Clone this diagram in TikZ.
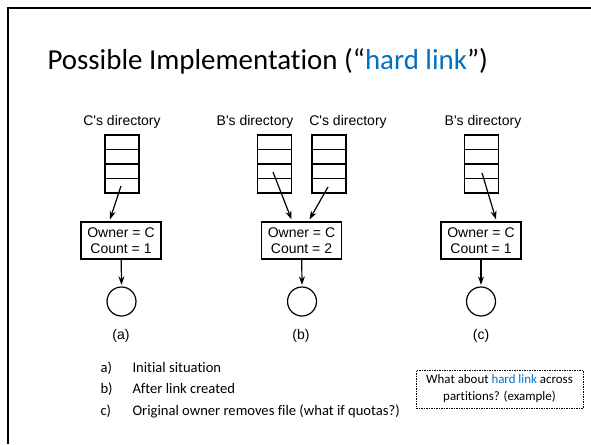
\documentclass[tikz,border=0pt]{standalone}
\usepackage{fontspec}
\setmainfont{Carlito}[Ligatures=NoCommon]
\newfontfamily\arialfont{Liberation Sans}
\usetikzlibrary{positioning, arrows.meta}
\definecolor{linkblue}{RGB}{0,112,192}
\begin{document}
\begin{tikzpicture}[x=1pt, y=-1pt, >={Stealth[length=8.5pt, width=6pt]},
  dirtab/.style={draw, line width=1.2pt, minimum width=34pt, minimum height=58pt, inner sep=0pt,
    path picture={\foreach \k in {1,2,3} \draw[line width=1.2pt] ([yshift=-\k*14.5pt]path picture bounding box.north west) -- ([yshift=-\k*14.5pt]path picture bounding box.north east);}},
  dirlabel/.style={font=\arialfont\fontsize{14}{16}\selectfont, anchor=base},
  inode/.style={draw, line width=1.2pt, minimum width=80pt, minimum height=37pt, inner sep=0pt, align=center,
    font=\arialfont\fontsize{14}{16.5}\selectfont},
  filecirc/.style={draw, circle, line width=1.2pt, minimum size=29pt, inner sep=0pt},
  caption/.style={font=\arialfont\fontsize{14}{16}\selectfont, anchor=base},
  ptr/.style={->, line width=1.2pt},
  item/.style={font=\fontsize{14.6}{17}\selectfont, anchor=base west}]
\useasboundingbox (0,0) rectangle (591,444);
\draw[line width=2pt] (8,444) -- (8,8) -- (591,8);
\node[anchor=base west, font=\fontsize{28.9}{32}\selectfont] (title) at (44,70) {Possible Implementation (“\textcolor{linkblue}{hard link}”)};
\node[dirlabel] (labA) at (122,125) {C's directory};
\node[dirlabel] (labB) at (255,125) {B's directory};
\node[dirlabel] (labC) at (348,125) {C's directory};
\node[dirlabel] (labD) at (483,125) {B's directory};
\node[dirtab] (tabA) at (122,164) {};
\node[dirtab] (tabB) at (274.5,164) {};
\node[dirtab] (tabC) at (329,164) {};
\node[dirtab] (tabD) at (481.5,164) {};
\coordinate (pA) at (121,186);
\coordinate (pB) at (273,172);
\coordinate (pC) at (328,187);
\coordinate (pD) at (482,173);
\node[inode] (inoA) at (121,240.5) {Owner = C\\Count = 1};
\node[inode] (inoB) at (301.5,240.5) {Owner = C\\Count = 2};
\node[inode] (inoC) at (481,240.5) {Owner = C\\Count = 1};
\node[filecirc] (fileA) at (121.5,301.5) {};
\node[filecirc] (fileB) at (302,301.5) {};
\node[filecirc] (fileC) at (481,301.5) {};
\node[caption] (capA) at (121,339) {(a)};
\node[caption] (capB) at (301,339) {(b)};
\node[caption] (capC) at (481,339) {(c)};
\draw[ptr] (pA) -- ([xshift=-11pt, yshift=2pt]inoA.north);
\draw[ptr] (pB) -- ([xshift=-10pt, yshift=2pt]inoB.north);
\draw[ptr] (pC) -- ([xshift=8pt, yshift=2pt]inoB.north);
\draw[ptr] (pD) -- ([xshift=15pt, yshift=2pt]inoC.north);
\draw[ptr] (inoA) -- ([yshift=1.5pt]fileA.north);
\draw[ptr] (inoB) -- ([yshift=1.5pt]fileB.north);
\draw[ptr] (inoC) -- ([yshift=1.5pt]fileC.north);
\node[item] (la) at (97,372) {a)};
\node[item] (ta) at (129,372) {Initial situation};
\node[item] (lb) at (97,393) {b)};
\node[item] (tb) at (129,393) {After link created};
\node[item] (lc) at (97,415) {c)};
\node[item] (tc) at (129,415) {Original owner removes file (what if quotas?)};
\node[draw, dash pattern=on 1.5pt off 1pt, line width=0.8pt, minimum width=167pt, minimum height=38pt, align=center,
  font=\fontsize{12.9}{17}\selectfont] (note) at (499.5,389) {What about \textcolor{linkblue}{hard link} across\\partitions? (example)};
\end{tikzpicture}
\end{document}
